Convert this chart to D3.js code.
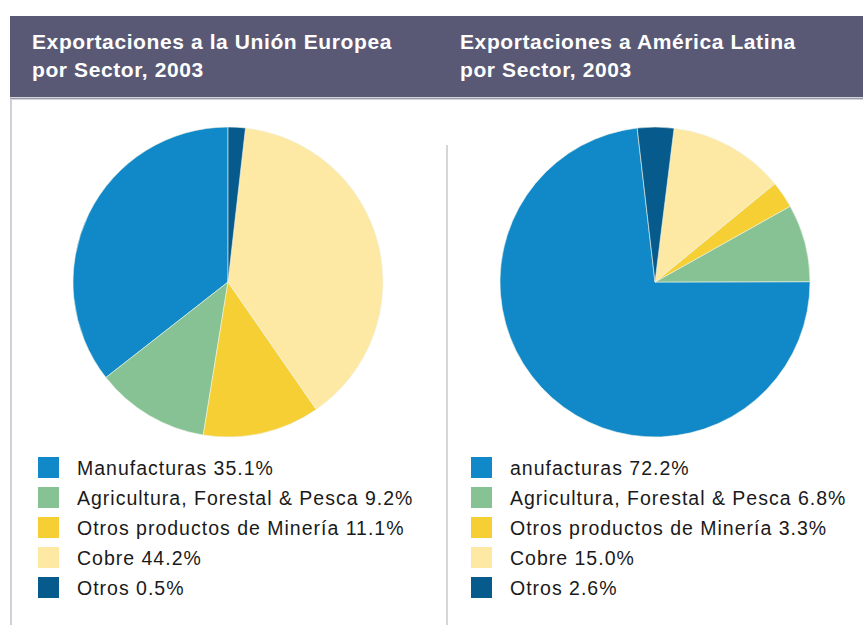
<!DOCTYPE html>
<html>
<head>
<meta charset="utf-8">
<script src="https://cdn.jsdelivr.net/npm/d3@7"></script>
<style>
  html, body { margin: 0; padding: 0; background: #fff; }
  svg { display: block; }
</style>
</head>
<body>
<div id="chart"></div>
<script>
// Sectors, in legend order
const sectors = ['Manufacturas', 'Agricultura, Forestal & Pesca', 'Otros productos de Minería', 'Cobre', 'Otros']
const sectorColors = ['#1189c8', '#86c294', '#f5cf33', '#fde9a4', '#065a8c']

// Legend labels as printed (the second chart lost the "M")
const labelsUE = ['Manufacturas', 'Agricultura, Forestal & Pesca', 'Otros productos de Minería', 'Cobre', 'Otros']
const labelsAL = ['anufacturas', 'Agricultura, Forestal & Pesca', 'Otros productos de Minería', 'Cobre', 'Otros']

// Percentages printed in the legends
const pctUE = [35.1, 9.2, 11.1, 44.2, 0.5]
const pctAL = [72.2, 6.8, 3.3, 15.0, 2.6]

// Slice sizes as drawn in the picture (% of the circle)
const sliceUE = [35.6, 11.9, 12.2, 38.6, 1.8]
const sliceAL = [73.2, 8.1, 2.8, 12.1, 3.8]

const titlesUE = ['Exportaciones a la Unión Europea', 'por Sector, 2003']
const titlesAL = ['Exportaciones a América Latina', 'por Sector, 2003']

const W = 863, H = 625

const svg = d3.select('#chart').append('svg').attr('width', W).attr('height', H)

// Header band
svg.append('rect').attr('x', 10).attr('y', 16).attr('width', W - 10).attr('height', 81).attr('fill', '#5a5975')
svg.append('rect').attr('x', 10).attr('y', 97).attr('width', W - 10).attr('height', 3).attr('fill', '#d4d4dc')
svg.append('line').attr('x1', 10).attr('x2', W).attr('y1', 98.5).attr('y2', 98.5).attr('stroke', '#9a9aa8').attr('stroke-width', 1)
// content frame (left edge)
svg.append('rect').attr('x', 10).attr('y', 100).attr('width', 2).attr('height', H - 100).attr('fill', '#d0d0d6')
// divider between the two charts
svg.append('rect').attr('x', 446).attr('y', 145).attr('width', 2).attr('height', H - 145).attr('fill', '#d6d6d6')

const charts = [
  { titles: titlesUE, labels: labelsUE, pct: pctUE, slices: sliceUE, cx: 228, cy: 282, start: 0, titleX: 32, legendX: 38 },
  { titles: titlesAL, labels: labelsAL, pct: pctAL, slices: sliceAL, cx: 655, cy: 282, start: -6.6, titleX: 460, legendX: 471 },
]

const color = d3.scaleOrdinal().domain(sectors).range(sectorColors)
const radius = 155
const arc = d3.arc().innerRadius(0).outerRadius(radius)

charts.forEach(c => {
  // titles
  svg.append('g').selectAll('text').data(c.titles).join('text')
    .attr('x', c.titleX)
    .attr('y', (d, i) => 49 + i * 28)
    .attr('fill', '#fff')
    .style('font-family', '"Liberation Sans", Arial, sans-serif')
    .style('font-weight', 'bold')
    .style('font-size', '21px')
    .style('letter-spacing', '0.6px')
    .text(d => d)

  // pie, slices run counter-clockwise in legend order
  const a0 = c.start * Math.PI / 180
  const pie = d3.pie().sort(null).value(d => d.v).startAngle(a0).endAngle(a0 - 2 * Math.PI)
  const rows = sectors.map((s, i) => ({ sector: s, v: c.slices[i] }))

  svg.append('g').attr('transform', `translate(${c.cx},${c.cy})`)
    .selectAll('path').data(pie(rows)).join('path')
    .attr('d', arc)
    .attr('fill', d => color(d.data.sector))
    .attr('stroke', '#eef3e8')
    .attr('stroke-width', 0.6)

  // legend
  const lg = svg.append('g').attr('transform', `translate(${c.legendX},457)`)
  const item = lg.selectAll('g').data(sectors).join('g')
    .attr('transform', (d, i) => `translate(0,${i * 30})`)
  item.append('rect')
    .attr('width', 21).attr('height', 21)
    .attr('fill', d => color(d))
  item.append('text')
    .attr('x', 39).attr('y', 18)
    .attr('fill', '#1a1a1a')
    .style('font-family', '"Liberation Sans", Arial, sans-serif')
    .style('font-size', '19.5px')
    .style('letter-spacing', '1px')
    .text((d, i) => `${c.labels[i]} ${c.pct[i].toFixed(1)}%`)
})
</script>
</body>
</html>
